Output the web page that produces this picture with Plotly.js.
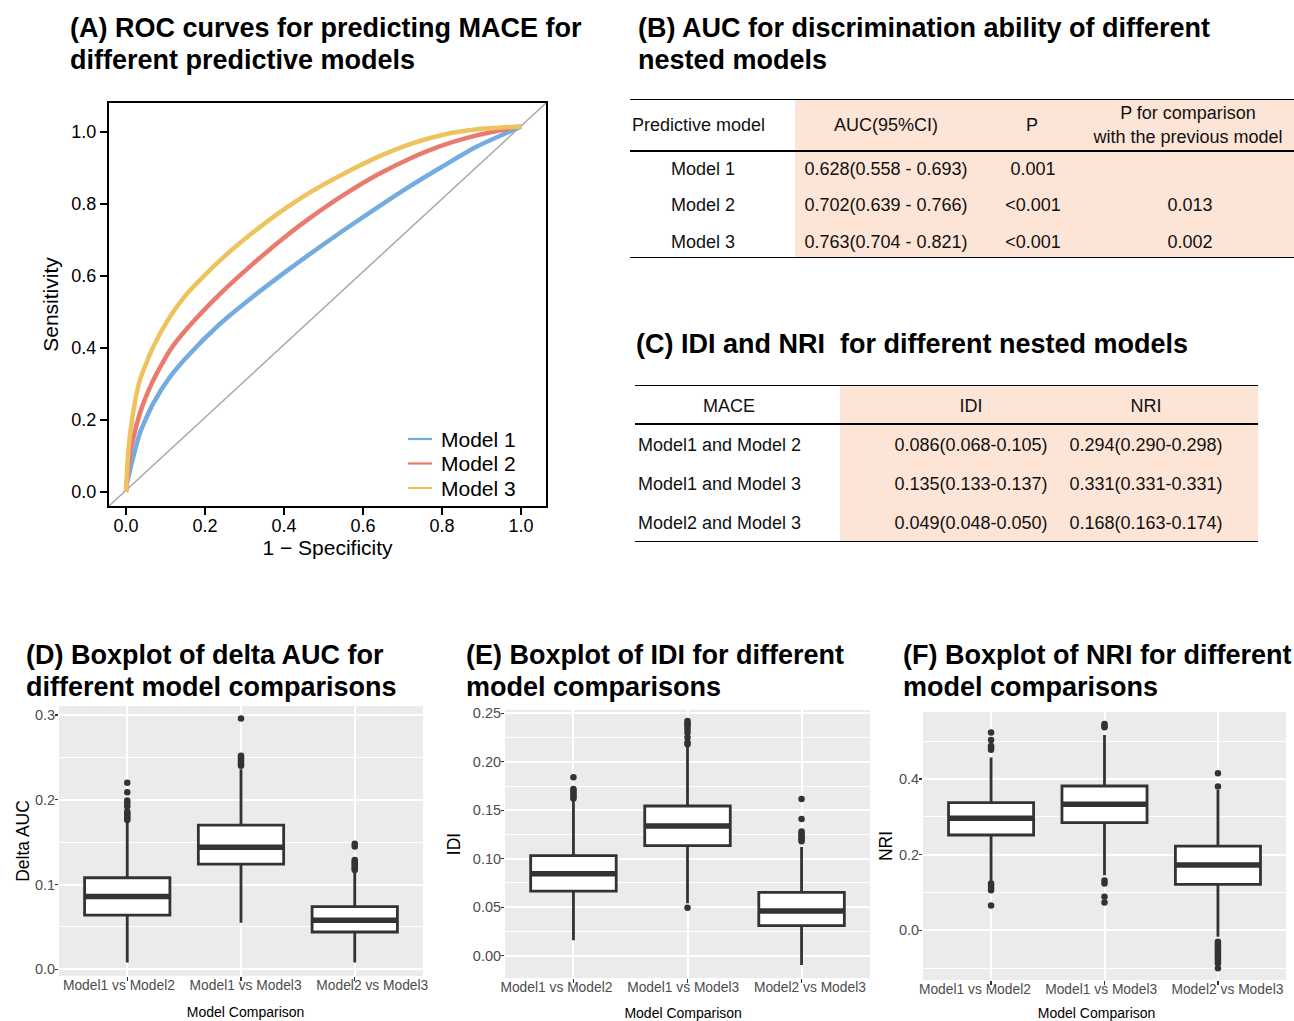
<!DOCTYPE html>
<html><head><meta charset="utf-8">
<script src="https://cdn.plot.ly/plotly-3.0.1.min.js"></script>
<style>html,body{margin:0;padding:0;background:#fff}</style>
</head><body><div id="chart" style="width:1294px;height:1021px"></div>
<script>
// ---------------- DATA ----------------
// (A) ROC curves
const rocNames = ["Model 1", "Model 2", "Model 3"];
const roc1FPR = [0, 0.002, 0.01, 0.035, 0.069, 0.111, 0.154, 0.238, 0.322, 0.407, 0.466, 0.55, 0.635, 0.719, 0.803, 0.888, 1.0];
const roc1TPR = [0, 0.022, 0.06, 0.163, 0.246, 0.319, 0.375, 0.467, 0.543, 0.614, 0.661, 0.726, 0.789, 0.849, 0.905, 0.959, 1.015];
const roc2FPR = [0, 0.01, 0.035, 0.069, 0.111, 0.154, 0.238, 0.322, 0.407, 0.466, 0.55, 0.635, 0.719, 0.803, 0.888, 1.0];
const roc2TPR = [0, 0.107, 0.218, 0.31, 0.393, 0.453, 0.55, 0.634, 0.712, 0.761, 0.824, 0.880, 0.926, 0.963, 0.990, 1.015];
const roc3FPR = [0, 0.006, 0.019, 0.035, 0.069, 0.111, 0.154, 0.238, 0.322, 0.407, 0.466, 0.55, 0.635, 0.719, 0.803, 0.888, 1.0];
const roc3TPR = [0, 0.116, 0.227, 0.31, 0.403, 0.486, 0.55, 0.643, 0.721, 0.79, 0.832, 0.883, 0.929, 0.966, 0.992, 1.007, 1.015];
const rocTicks = [0, 0.2, 0.4, 0.6, 0.8, 1.0];

// (B) AUC table
const tabBHeader = ["Predictive model", "AUC(95%CI)", "P", "P for comparison<br>with the previous model"];
const tabBModel = ["Model 1", "Model 2", "Model 3"];
const tabBAUC = ["0.628(0.558 - 0.693)", "0.702(0.639 - 0.766)", "0.763(0.704 - 0.821)"];
const tabBP = ["0.001", "<0.001", "<0.001"];
const tabBComp = ["", "0.013", "0.002"];

// (C) IDI / NRI table
const tabCHeader = ["MACE", "IDI", "NRI"];
const tabCPair = ["Model1 and Model 2", "Model1 and Model 3", "Model2 and Model 3"];
const tabCIDI = ["0.086(0.068-0.105)", "0.135(0.133-0.137)", "0.049(0.048-0.050)"];
const tabCNRI = ["0.294(0.290-0.298)", "0.331(0.331-0.331)", "0.168(0.163-0.174)"];

// (D)(E)(F) boxplots
const comparisons = ["Model1 vs Model2", "Model1 vs Model3", "Model2 vs Model3"];

const aucLow  = [0.008, 0.055, 0.008];
const aucQ1   = [0.064, 0.124, 0.044];
const aucMed  = [0.086, 0.144, 0.058];
const aucQ3   = [0.108, 0.170, 0.074];
const aucHigh = [0.173, 0.236, 0.115];
const aucOut1 = [0.176, 0.178, 0.180, 0.182, 0.184, 0.186, 0.192, 0.196, 0.199, 0.209, 0.220];
const aucOut2 = [0.240, 0.242, 0.244, 0.246, 0.248, 0.250, 0.252, 0.296];
const aucOut3 = [0.117, 0.119, 0.121, 0.123, 0.125, 0.127, 0.129, 0.145, 0.148];

const idiLow  = [0.016, 0.054, -0.0095];
const idiQ1   = [0.0667, 0.1135, 0.031];
const idiMed  = [0.0846, 0.1338, 0.0461];
const idiQ3   = [0.1032, 0.1544, 0.0653];
const idiHigh = [0.160, 0.2156, 0.112];
const idiOut1 = [0.162, 0.164, 0.166, 0.168, 0.170, 0.172, 0.184];
const idiOut2 = [0.0495, 0.218, 0.220, 0.225, 0.230, 0.233, 0.236, 0.238, 0.240, 0.242];
const idiOut3 = [0.118, 0.120, 0.122, 0.124, 0.126, 0.128, 0.141, 0.1616];

const nriLow  = [0.128, 0.146, -0.017];
const nriQ1   = [0.252, 0.2846, 0.1216];
const nriMed  = [0.296, 0.333, 0.1727];
const nriQ3   = [0.3374, 0.3815, 0.2229];
const nriHigh = [0.457, 0.516, 0.371];
const nriOut1 = [0.066, 0.106, 0.112, 0.118, 0.124, 0.477, 0.483, 0.487, 0.503, 0.523];
const nriOut2 = [0.074, 0.089, 0.124, 0.132, 0.537, 0.541, 0.545];
const nriOut3 = [-0.100, -0.087, -0.080, -0.075, -0.070, -0.065, -0.060, -0.055, -0.050, -0.045, -0.040, -0.035, -0.030, 0.380, 0.415];

// ---------------- LAYOUT HELPERS ----------------
const W = 1294, H = 1021;
const px = v => v / W;
const py = v => 1 - v / H;
const FONT = "Liberation Sans, Arial, Helvetica, sans-serif";
const rocColors = ["#74ACE2", "#EB7A6E", "#EEC35E"];
const dark = "#333333";
const peach = "#FCE4D6";

const traces = [];

// ROC curves
[[roc1FPR, roc1TPR], [roc2FPR, roc2TPR], [roc3FPR, roc3TPR]].forEach((c, i) => {
  traces.push({
    type: "scatter", mode: "lines", x: c[0], y: c[1], name: rocNames[i], showlegend: false,
    line: { color: rocColors[i], width: 4.5, shape: "spline", smoothing: 0.6 },
    xaxis: "x", yaxis: "y", hoverinfo: "skip"
  });
});

// ---- Table B (axes x2/y2 in pixel-like units) ----
const tB = { left: 630, right: 1294, top: 99, bottom: 258, head: 52, peachFrom: 795, textShift: 1.5, rowGap: 36.5 };
const tBHeadX = [2, 256, 402, 558];
const tBHeadPos = ["middle right", "middle center", "middle center", "middle center"];
const tBColX = [73, 256, 403, 560];
const tBRowY = ri => tB.head + 19 + tB.rowGap * ri;
traces.push({
  type: "scatter", mode: "text", xaxis: "x2", yaxis: "y2", showlegend: false, hoverinfo: "skip",
  x: tBHeadX, y: tabBHeader.map(() => tB.head / 2 + tB.textShift), text: tabBHeader, textposition: tBHeadPos,
  textfont: { size: 18, color: "#111", family: FONT }
});
[tabBModel, tabBAUC, tabBP, tabBComp].forEach((col, ci) => {
  traces.push({
    type: "scatter", mode: "text", xaxis: "x2", yaxis: "y2", showlegend: false, hoverinfo: "skip",
    x: col.map(() => tBColX[ci]), y: col.map((_, ri) => tBRowY(ri)),
    text: col, textposition: "middle center", textfont: { size: 18, color: "#111", family: FONT }
  });
});

// ---- Table C (axes x3/y3) ----
const tC = { left: 635, right: 1258, top: 385, bottom: 542, head: 39, peachFrom: 840, textShift: 2.5 };
const tCRowH = (tC.bottom - tC.top - tC.head) / tabCPair.length;
const tCHeadX = [94, 336, 511];
const tCColX = [3, 336, 511];
const tCColPos = ["middle right", "middle center", "middle center"];
traces.push({
  type: "scatter", mode: "text", xaxis: "x3", yaxis: "y3", showlegend: false, hoverinfo: "skip",
  x: tCHeadX, y: tabCHeader.map(() => tC.head / 2 + tC.textShift), text: tabCHeader, textposition: "middle center",
  textfont: { size: 18, color: "#111", family: FONT }
});
[tabCPair, tabCIDI, tabCNRI].forEach((col, ci) => {
  traces.push({
    type: "scatter", mode: "text", xaxis: "x3", yaxis: "y3", showlegend: false, hoverinfo: "skip",
    x: col.map(() => tCColX[ci]), y: col.map((_, ri) => tC.head + tCRowH * (ri + 0.5) + tC.textShift),
    text: col, textposition: tCColPos[ci], textfont: { size: 18, color: "#111", family: FONT }
  });
});

// ---- Boxplots ----
const catPos = comparisons.map((_, i) => i + 1);
const boxW = 0.75;
function boxPanel(n, labelN, low, q1, med, q3, high, outs) {
  const xa = "x" + n, ya = "y" + n;
  traces.push({
    type: "box", x: catPos, q1: q1, median: med, q3: q3, lowerfence: low, upperfence: high,
    width: boxW, whiskerwidth: 0, boxpoints: false, fillcolor: "#FFFFFF",
    line: { color: dark, width: 2.8 }, xaxis: xa, yaxis: ya, showlegend: false, hoverinfo: "skip"
  });
  const mx = [], my = [];
  med.forEach((m, i) => { mx.push(catPos[i] - boxW / 2, catPos[i] + boxW / 2, null); my.push(m, m, null); });
  traces.push({
    type: "scatter", mode: "lines", x: mx, y: my, line: { color: dark, width: 5.5 },
    xaxis: xa, yaxis: ya, showlegend: false, hoverinfo: "skip"
  });
  const ox = [], oy = [];
  outs.forEach((arr, i) => arr.forEach(v => { ox.push(catPos[i]); oy.push(v); }));
  traces.push({
    type: "scatter", mode: "markers", x: ox, y: oy, marker: { color: dark, size: 6.5 },
    xaxis: xa, yaxis: ya, showlegend: false, hoverinfo: "skip", cliponaxis: false
  });
  // invisible carrier for the category-label axis
  traces.push({
    type: "scatter", mode: "markers", x: catPos, y: catPos.map(() => 0), marker: { opacity: 0, size: 1 },
    xaxis: "x" + labelN, yaxis: "y" + labelN, showlegend: false, hoverinfo: "skip"
  });
}
boxPanel(4, 7, aucLow, aucQ1, aucMed, aucQ3, aucHigh, [aucOut1, aucOut2, aucOut3]);
boxPanel(5, 8, idiLow, idiQ1, idiMed, idiQ3, idiHigh, [idiOut1, idiOut2, idiOut3]);
boxPanel(6, 9, nriLow, nriQ1, nriMed, nriQ3, nriHigh, [nriOut1, nriOut2, nriOut3]);

// ---------------- AXES ----------------
const rocAxisCommon = {
  showline: true, mirror: true, linecolor: "#000", linewidth: 2, showgrid: false, zeroline: false,
  ticks: "outside", ticklen: 7, tickwidth: 1.5, tickcolor: "#000",
  tickvals: rocTicks, tickformat: ".1f", tickfont: { size: 18, color: "#000", family: FONT }
};
const hidden = { visible: false, fixedrange: true };
function ggX(x0, x1) {
  return {
    domain: [px(x0), px(x1)], range: [0.4, 3.6], tickvals: catPos, showticklabels: false,
    showgrid: true, gridcolor: "#FFFFFF", gridwidth: 2, zeroline: false, showline: false,
    ticks: "outside", ticklen: 3.5, tickwidth: 1.2, tickcolor: dark
  };
}
// category labels axis (labels in the source are spaced a little wider than the boxes)
function labelX(firstCenter, spacing, yAnchor) {
  const d0 = firstCenter - 0.6 * spacing;
  const d1 = Math.min(W, firstCenter + 2.6 * spacing);
  return {
    domain: [px(d0), px(d1)], range: [0.4, 0.4 + (d1 - d0) / spacing], anchor: yAnchor,
    tickvals: catPos, ticktext: comparisons, showgrid: false, zeroline: false, showline: false, ticks: "",
    ticklabelstandoff: -1,
    tickfont: { size: 13.8, color: "#4D4D4D", family: FONT },
    title: { text: "Model Comparison", font: { size: 14, color: "#000", family: FONT }, standoff: 15 }
  };
}
function ggY(y0, y1, range, dtick, minor, fmt, title, standoff) {
  return {
    domain: [py(y0), py(y1)], range: range, tick0: 0, dtick: dtick, tickformat: fmt,
    showgrid: true, gridcolor: "#FFFFFF", gridwidth: 2, zeroline: false, showline: false,
    minor: { dtick: minor, tick0: 0, showgrid: true, gridcolor: "#FFFFFF", gridwidth: 1, ticks: "" },
    ticks: "outside", ticklen: 3, tickwidth: 1.2, tickcolor: dark, ticklabelstandoff: -3,
    tickfont: { size: 14.5, color: "#4D4D4D", family: FONT },
    title: { text: title, font: { size: 17.5, color: "#000", family: FONT }, standoff: standoff }
  };
}

const layout = {
  width: W, height: H, margin: { l: 0, r: 0, t: 0, b: 0 },
  paper_bgcolor: "#FFFFFF", plot_bgcolor: "rgba(0,0,0,0)",
  font: { family: FONT, color: "#000" },
  showlegend: false,
  xaxis: Object.assign({}, rocAxisCommon, {
    domain: [px(109), px(546)], range: [-0.043, 1.063], anchor: "y", ticklabelstandoff: -5,
    title: { text: "1 − Specificity", font: { size: 21, family: FONT, color: "#000" }, standoff: 6 }
  }),
  yaxis: Object.assign({}, rocAxisCommon, {
    domain: [py(506), py(103)], range: [-0.039, 1.08], anchor: "x",
    title: { text: "Sensitivity", font: { size: 21, family: FONT, color: "#000" }, standoff: 7 }
  }),
  xaxis2: Object.assign({}, hidden, { domain: [px(tB.left), px(tB.right)], range: [0, tB.right - tB.left], anchor: "y2" }),
  yaxis2: Object.assign({}, hidden, { domain: [py(tB.bottom), py(tB.top)], range: [tB.bottom - tB.top, 0], anchor: "x2" }),
  xaxis3: Object.assign({}, hidden, { domain: [px(tC.left), px(tC.right)], range: [0, tC.right - tC.left], anchor: "y3" }),
  yaxis3: Object.assign({}, hidden, { domain: [py(tC.bottom), py(tC.top)], range: [tC.bottom - tC.top, 0], anchor: "x3" }),
  xaxis4: Object.assign(ggX(59, 423), { anchor: "y4" }),
  yaxis4: Object.assign(ggY(976, 706, [-0.0079, 0.3106], 0.1, 0.05, ".1f", "Delta AUC", 0), { anchor: "x4" }),
  xaxis5: Object.assign(ggX(505, 870), { anchor: "y5" }),
  yaxis5: Object.assign(ggY(978, 710, [-0.023, 0.2534], 0.05, 0.025, ".2f", "IDI", 7), { anchor: "x5" }),
  xaxis6: Object.assign(ggX(923, 1286), { anchor: "y6" }),
  yaxis6: Object.assign(ggY(980, 712, [-0.131, 0.577], 0.2, 0.1, ".1f", "NRI", 1), { anchor: "x6" }),
  xaxis7: labelX(118.9, 126.7, "y7"),
  yaxis7: Object.assign({}, hidden, { domain: [py(976), py(706)], range: [-1, 1], anchor: "x7" }),
  xaxis8: labelX(556.4, 126.75, "y8"),
  yaxis8: Object.assign({}, hidden, { domain: [py(978), py(710)], range: [-1, 1], anchor: "x8" }),
  xaxis9: labelX(974.9, 126.25, "y9"),
  yaxis9: Object.assign({}, hidden, { domain: [py(980), py(712)], range: [-1, 1], anchor: "x9" }),
  shapes: [],
  annotations: []
};

// ROC chance diagonal
layout.shapes.push({ type: "line", xref: "x domain", yref: "y domain", x0: 0, y0: 0, x1: 1, y1: 1,
  line: { color: "#A8A8A8", width: 1.5 }, layer: "below" });

// ROC legend (drawn manually: short line keys)
const leg = { x0: 408, x1: 432, textX: 439, y0: 439, step: 24.5 };
rocNames.forEach((nm, i) => {
  const yy = leg.y0 + i * leg.step;
  layout.shapes.push({ type: "line", xref: "paper", yref: "paper", x0: px(leg.x0), x1: px(leg.x1),
    y0: py(yy), y1: py(yy), line: { color: rocColors[i], width: 2.2 } });
  layout.annotations.push({ xref: "paper", yref: "paper", x: px(leg.textX), y: py(yy), xanchor: "left",
    yanchor: "middle", text: nm, showarrow: false, font: { size: 21, color: "#000", family: FONT } });
});

// ggplot grey panels
[4, 5, 6].forEach(n => layout.shapes.push({
  type: "rect", xref: "x" + n + " domain", yref: "y" + n + " domain", x0: 0, x1: 1, y0: 0, y1: 1,
  fillcolor: "#EBEBEB", line: { width: 0 }, layer: "below"
}));

// Table B fill + rules
layout.shapes.push({ type: "rect", xref: "x2", yref: "y2", x0: tB.peachFrom - tB.left, x1: tB.right - tB.left,
  y0: 0, y1: tB.bottom - tB.top, fillcolor: peach, line: { width: 0 }, layer: "below" });
[0, tB.head, tB.bottom - tB.top].forEach(yv => layout.shapes.push({
  type: "line", xref: "x2", yref: "y2", x0: 0, x1: tB.right - tB.left, y0: yv, y1: yv,
  line: { color: "#000", width: 2 }
}));
// Table C fill + rules
layout.shapes.push({ type: "rect", xref: "x3", yref: "y3", x0: tC.peachFrom - tC.left, x1: tC.right - tC.left,
  y0: 0, y1: tC.bottom - tC.top, fillcolor: peach, line: { width: 0 }, layer: "below" });
[0, tC.head, tC.bottom - tC.top].forEach(yv => layout.shapes.push({
  type: "line", xref: "x3", yref: "y3", x0: 0, x1: tC.right - tC.left, y0: yv, y1: yv,
  line: { color: "#000", width: 2 }
}));

// Panel titles
const titles = [
  ["(A) ROC curves for predicting MACE for", 68, 28], ["different predictive models", 68, 60],
  ["(B) AUC for discrimination ability of different", 636, 28], ["nested models", 636, 60],
  ["(C) IDI and NRI  for different nested models", 634, 344],
  ["(D) Boxplot of delta AUC for", 24, 655], ["different model comparisons", 24, 687],
  ["(E) Boxplot of IDI for different", 464, 655], ["model comparisons", 464, 687],
  ["(F) Boxplot of NRI for different", 901, 655], ["model comparisons", 901, 687]
];
titles.forEach(t => layout.annotations.push({
  xref: "paper", yref: "paper", x: px(t[1]), y: py(t[2]), xanchor: "left", yanchor: "middle",
  text: "<b>" + t[0].replace(/  /g, " &nbsp;") + "</b>", showarrow: false,
  font: { size: 27, color: "#000", family: FONT }
}));

Plotly.newPlot("chart", traces, layout, { staticPlot: true, displayModeBar: false });
</script>
</body></html>
